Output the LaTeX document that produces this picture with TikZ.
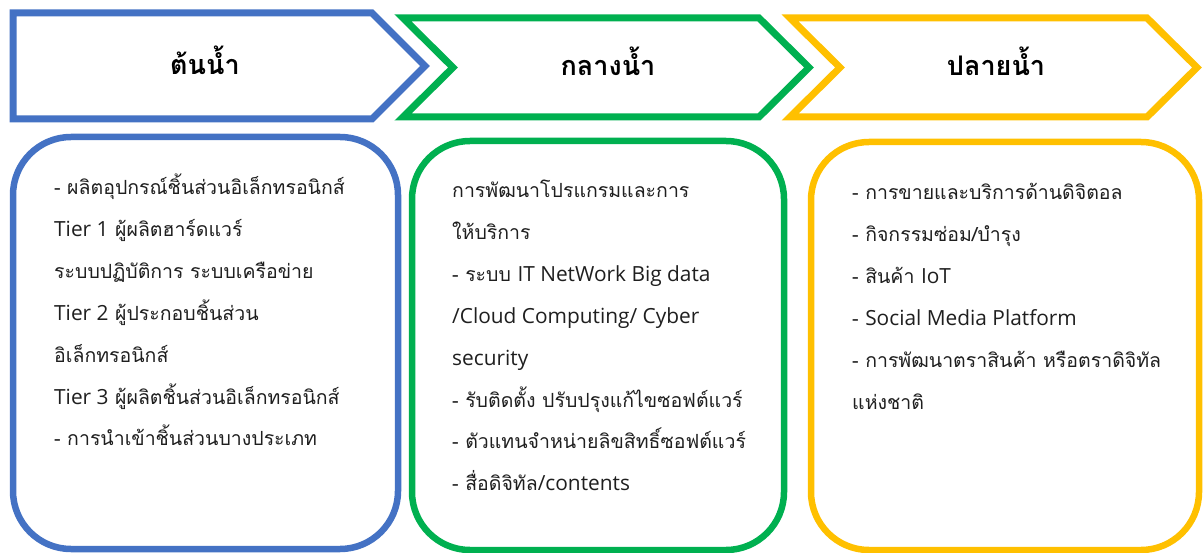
\documentclass[tikz,border=0pt]{standalone}
\usepackage{fontspec}
\newfontfamily\thaifont[Script=Thai]{Loma}
\newfontfamily\latinfont[Scale=1.07]{Open Sans}
\newcommand{\lat}[1]{{\latinfont #1}}
\begin{document}
\begin{tikzpicture}[x=1pt,y=-1pt,
  line join=miter,
  stage/.style={line width=7pt, fill=white},
  panel/.style={line width=6.5pt, rounded corners=58pt, fill=white},
  heading/.style={font=\thaifont\bfseries\fontsize{27}{30}\selectfont, inner sep=0pt, anchor=base},
  itemtext/.style={font=\thaifont\fontsize{19.5}{24}\selectfont, text=black!88, inner sep=0pt, anchor=base west}]
\definecolor{upblue}{HTML}{4472C4}
\definecolor{midgreen}{HTML}{00B050}
\definecolor{downyellow}{HTML}{FFC000}
\useasboundingbox (0,0) rectangle (1204,553);

% arrow banners
\draw[stage, draw=upblue] (13,13) -- (372,13) -- (425,66) -- (372,119) -- (13,119) -- cycle;
\draw[stage, draw=midgreen] (403,18) -- (759,18) -- (809,67.5) -- (759,117) -- (403,117) -- (453,67.5) -- cycle;
\draw[stage, draw=downyellow] (790,18) -- (1147,18) -- (1197,67.5) -- (1147,117) -- (790,117) -- (840,67.5) -- cycle;

\node[heading] (h1) at (205,75) {ต้นน้ำ};
\node[heading] (h2) at (608,76) {กลางน้ำ};
\node[heading] (h3) at (996,76) {ปลายน้ำ};

% detail panels
\draw[panel, draw=upblue] (13,137) rectangle (398,549);
\draw[panel, draw=midgreen] (412,141) rectangle (784,550);
\draw[panel, draw=downyellow] (811,142) rectangle (1199,550);

\foreach \t [count=\i] in {
  - ผลิตอุปกรณ์ชิ้นส่วนอิเล็กทรอนิกส์,
  \lat{Tier 1} ผู้ผลิตฮาร์ดแวร์,
  ระบบปฏิบัติการ ระบบเครือข่าย,
  \lat{Tier 2} ผู้ประกอบชิ้นส่วน,
  อิเล็กทรอนิกส์,
  \lat{Tier 3} ผู้ผลิตชิ้นส่วนอิเล็กทรอนิกส์,
  - การนำเข้าชิ้นส่วนบางประเภท}
  \node[itemtext] (up\i) at (54,{195+(\i-1)*41.8}) {\t};

\foreach \t [count=\i] in {
  การพัฒนาโปรแกรมและการ,
  ให้บริการ,
  - ระบบ \lat{IT NetWork Big data},
  \lat{/Cloud Computing/ Cyber},
  \lat{security},
  - รับติดตั้ง ปรับปรุงแก้ไขซอฟต์แวร์,
  - ตัวแทนจำหน่ายลิขสิทธิ์ซอฟต์แวร์,
  - สื่อดิจิทัล\lat{/contents}}
  \node[itemtext] (mid\i) at (452,{198+(\i-1)*41.8}) {\t};

\foreach \t [count=\i] in {
  - การขายและบริการด้านดิจิตอล,
  - กิจกรรมซ่อม/บำรุง,
  - สินค้า \lat{IoT},
  - \lat{Social Media Platform},
  - การพัฒนาตราสินค้า หรือตราดิจิทัล,
  แห่งชาติ}
  \node[itemtext] (down\i) at (852,{200+(\i-1)*41.8}) {\t};
\end{tikzpicture}
\end{document}
